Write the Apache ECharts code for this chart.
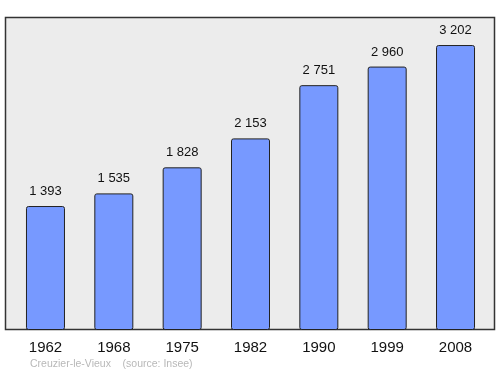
<!DOCTYPE html>
<html><head><meta charset="utf-8">
<script src="https://cdn.jsdelivr.net/npm/echarts@6/dist/echarts.min.js"></script>
<style>html,body{margin:0;padding:0;background:#fff}#c{width:500px;height:374px}</style>
</head><body><div id="c"></div>
<script>
var categories = ['1962','1968','1975','1982','1990','1999','2008'];
var population = [1393,1535,1828,2153,2751,2960,3202];
var sourceText = 'Creuzier-le-Vieux    (source: Insee)';

var chart = echarts.init(document.getElementById('c'), null, {renderer:'canvas'});
chart.setOption({
  animation:false,
  backgroundColor:'#ffffff',
  graphic:[
    {type:'rect', z:0, shape:{x:5.5,y:17.5,width:489,height:312}, style:{fill:'#ececec', stroke:'#333', lineWidth:1.5}},
    {type:'text', z:10, left:30, top:359, style:{text:sourceText, fill:'#b8b8b8', font:'10.5px "Liberation Sans", Arial, sans-serif'}}
  ],
  grid:{left:11.3, width:478.4, top:17, bottom:44, containLabel:false},
  xAxis:{type:'category', data:categories, boundaryGap:true,
    axisLine:{show:false}, axisTick:{show:false},
    axisLabel:{color:'#111', fontSize:15, fontFamily:'"Liberation Sans", Arial, sans-serif', margin:10}},
  yAxis:{type:'value', min:0, max:3517, show:false, splitLine:{show:false}},
  series:[{type:'bar', data:population, barWidth:39, z:5,
    itemStyle:{color:'#7799ff', borderColor:'#222', borderWidth:1, borderRadius:2},
    label:{show:true, position:'top', distance:8, color:'#111', fontSize:13, fontFamily:'"Liberation Sans", Arial, sans-serif',
      formatter:function(p){return String(p.value).replace(/\B(?=(\d{3})+(?!\d))/g,' ');}}
  }]
});
</script></body></html>
